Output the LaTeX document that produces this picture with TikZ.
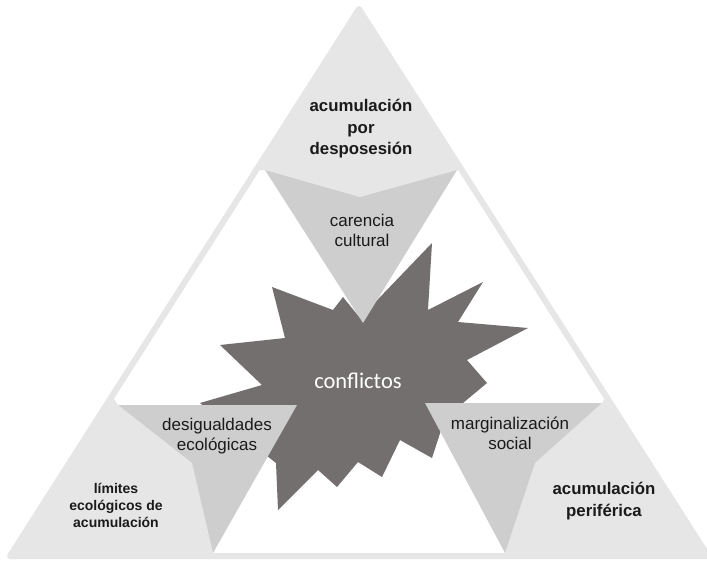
\documentclass[tikz,border=0pt]{standalone}
\usepackage{fontspec}
\setmainfont{Liberation Sans}
\newfontfamily\conffont{Carlito}
\definecolor{lightg}{HTML}{E6E6E6}
\definecolor{midg}{HTML}{CFCECF}
\definecolor{darkg}{HTML}{736F6F}
\definecolor{txt}{HTML}{1A1A1A}
\begin{document}
\begin{tikzpicture}[x=1pt,y=-1pt,
  lbl/.style={align=center, text=txt, inner sep=0pt, font=\fontsize{17}{20}\selectfont},
  blbl/.style={align=center, text=txt, inner sep=0pt, font=\fontsize{16.8}{21.5}\selectfont\bfseries},
  bsmall/.style={align=center, text=txt, inner sep=0pt, font=\fontsize{14}{17}\selectfont\bfseries},
  conf/.style={text=white, inner sep=0pt, font=\fontsize{22.5}{26}\selectfont\conffont},
  outer/.style={draw=lightg, line width=6pt, fill=white, line join=round},
  corner/.style={fill=lightg},
  mid/.style={fill=midg},
  burst/.style={fill=darkg}]
\useasboundingbox (0,0) rectangle (707,560);
\fill[white] (0,0) rectangle (707,560);
\coordinate (A) at (359,9);
\coordinate (B) at (10,556);
\coordinate (C) at (708,556);
% outer triangle
\draw[outer] (A) -- (B) -- (C) -- cycle;
% central burst
\fill[burst] (432,243) -- (428,310) -- (483,282) -- (458,322) -- (528,328)
  -- (467,360) -- (487,383) -- (445,418) -- (432,458) -- (400,440)
  -- (382,477) -- (358,462) -- (337,487) -- (318,470) -- (278,510)
  -- (276,463) -- (200,403) -- (262,385) -- (220,345) -- (285,338)
  -- (272,287) -- (333,310) -- (343,297) -- (360,318) -- cycle;
% medium triangles
\fill[mid] (265,170) -- (457,170) -- (363,323) -- cycle;
\fill[mid] (118,405) -- (297,405) -- (213,553) -- cycle;
\fill[mid] (425,403) -- (602,403) -- (505,553) -- cycle;
% light corner shapes with notch
\fill[corner] (A) -- (256,170) -- (265,170) -- (360,197) -- (457,170) -- (462,170) -- cycle;
\fill[corner] (B) -- (112,396) -- (118,405) -- (192,463) -- (213,553) -- (214,556) -- cycle;
\fill[corner] (C) -- (606,396) -- (602,403) -- (535,463) -- (505,553) -- (504,556) -- cycle;
% texts
\node[blbl] (t1) at (361,129) {acumulación\\por\\desposesión};
\node[lbl] (t2) at (362,230) {carencia\\cultural};
\node[conf] (t3) at (358,381) {conflictos};
\node[lbl] (t4) at (217,436) {desigualdades\\ecológicas};
\node[lbl] (t5) at (510,433) {marginalización\\social};
\node[bsmall] (t6) at (116,505) {límites\\ecológicos de\\acumulación};
\node[blbl] (t7) at (604,501) {acumulación\\periférica};
\end{tikzpicture}
\end{document}
